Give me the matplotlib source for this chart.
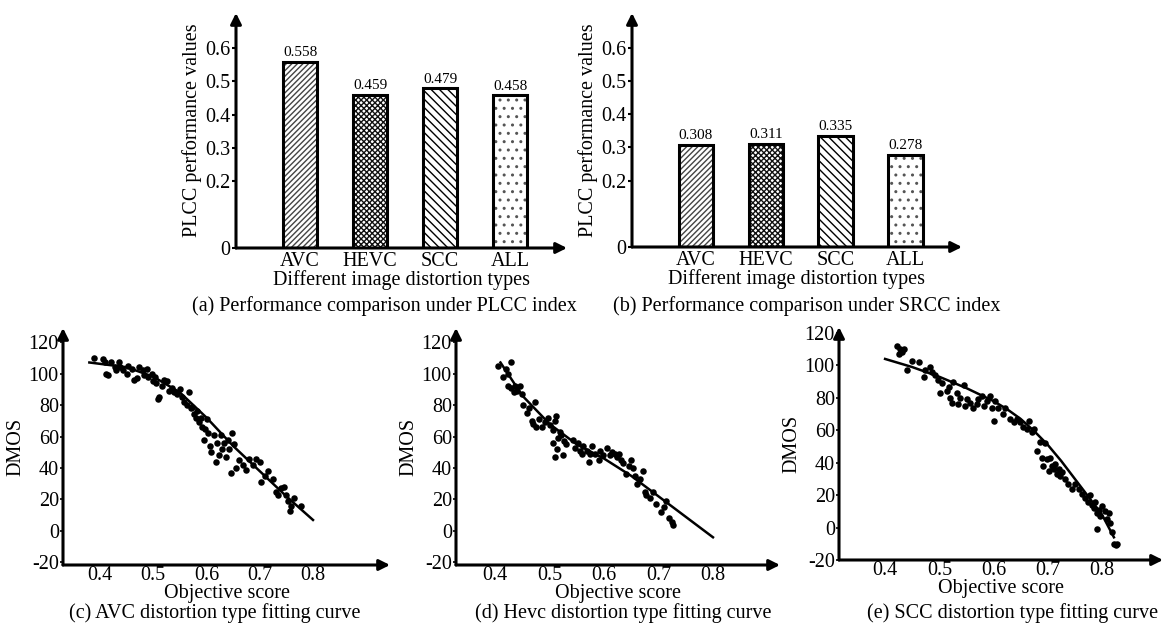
import matplotlib
matplotlib.use("Agg")
import matplotlib.pyplot as plt
import numpy as np

plt.rcParams['font.family'] = ['Liberation Serif', 'DejaVu Serif']
plt.rcParams['font.size'] = 14.5
plt.rcParams['hatch.linewidth'] = 1.0
plt.rcParams['axes.unicode_minus'] = False

# ---- bar chart data ----
categories = ['AVC', 'HEVC', 'SCC', 'ALL']
plcc_values = [0.558, 0.459, 0.479, 0.458]
srcc_values = [0.308, 0.311, 0.335, 0.278]
bar_ticks = [0, 0.2, 0.3, 0.4, 0.5, 0.6]
bar_ticklabels = ['0', '0.2', '0.3', '0.4', '0.5', '0.6']

# ---- scatter data (objective score, DMOS) ----
avc_x = [0.389, 0.406, 0.41, 0.411, 0.415, 0.42, 0.428, 0.43, 0.435, 0.438, 0.444, 0.45, 0.453,
         0.46, 0.463, 0.47, 0.473, 0.48, 0.482, 0.488, 0.49, 0.497, 0.5, 0.503, 0.506, 0.508,
         0.51, 0.516, 0.52, 0.526, 0.529, 0.535, 0.539, 0.545, 0.551, 0.554, 0.558, 0.564,
         0.567, 0.57, 0.573, 0.576, 0.58, 0.583, 0.586, 0.589, 0.592, 0.595, 0.598, 0.60,
         0.603, 0.606, 0.609, 0.614, 0.617, 0.62, 0.623, 0.627, 0.63, 0.633, 0.636, 0.64,
         0.643, 0.646, 0.647, 0.652, 0.655, 0.661, 0.668, 0.674, 0.68, 0.687, 0.693, 0.70,
         0.702, 0.709, 0.715, 0.724, 0.731, 0.734, 0.74, 0.746, 0.75, 0.753, 0.756, 0.759,
         0.765, 0.778]
avc_y = [110, 109, 107, 100, 99, 107, 104, 102, 107, 104, 102, 100, 105,
         103, 96, 97, 104, 102, 99, 103, 98, 100, 95, 98, 94, 84,
         85, 92, 96, 95, 89, 91, 88, 87, 90, 85, 82, 80,
         88, 78, 79, 74, 72, 76, 69, 72, 66, 58, 65, 71,
         62, 54, 50, 61, 44, 56, 48, 61, 52, 56, 47, 58,
         52, 37, 62, 55, 40, 45, 42, 39, 46, 42, 46, 44,
         31, 35, 38, 33, 25, 23, 27, 28, 23, 19, 13, 16,
         21, 16]
avc_fit_x = [0.38, 0.45, 0.50, 0.55, 0.60, 0.65, 0.70, 0.75, 0.80]
avc_fit_y = [107, 104, 98, 88, 72, 54, 38, 22, 7]

hevc_x = [0.406, 0.415, 0.42, 0.423, 0.424, 0.429, 0.43, 0.434, 0.437, 0.44, 0.446, 0.449,
          0.452, 0.458, 0.463, 0.467, 0.47, 0.473, 0.476, 0.481, 0.486, 0.492, 0.498, 0.501,
          0.507, 0.51, 0.512, 0.507, 0.51, 0.513, 0.516, 0.519, 0.522, 0.524, 0.526, 0.531,
          0.544, 0.547, 0.553, 0.556, 0.559, 0.562, 0.568, 0.572, 0.575, 0.578, 0.584, 0.59,
          0.593, 0.599, 0.605, 0.611, 0.614, 0.62, 0.623, 0.628, 0.632, 0.635, 0.641, 0.646,
          0.65, 0.653, 0.656, 0.66, 0.666, 0.672, 0.675, 0.678, 0.684, 0.69, 0.696, 0.705,
          0.711, 0.714, 0.72, 0.724, 0.727]
hevc_y = [105, 98, 103, 100, 92, 107, 91, 88, 92, 89, 92, 87,
          80, 75, 78, 70, 68, 82, 66, 71, 66, 69, 72, 67,
          64, 70, 73, 56, 47, 52, 59, 63, 61, 48, 57, 55,
          58, 53, 56, 51, 49, 54, 51, 44, 49, 54, 49, 45,
          51, 48, 53, 48, 50, 49, 47, 49, 45, 43, 36, 41,
          45, 40, 35, 30, 33, 38, 25, 23, 21, 25, 17, 12,
          15, 19, 8, 6, 4]
hevc_fit_x = [0.41, 0.45, 0.50, 0.55, 0.60, 0.65, 0.70, 0.75, 0.80]
hevc_fit_y = [107, 86, 68, 55, 46, 35, 22, 9, -4]

scc_x = [0.422, 0.428, 0.431, 0.425, 0.434, 0.44, 0.449, 0.462, 0.471, 0.474, 0.483, 0.486,
         0.492, 0.498, 0.502, 0.505, 0.514, 0.517, 0.52, 0.523, 0.526, 0.532, 0.535, 0.538,
         0.545, 0.548, 0.551, 0.557, 0.563, 0.569, 0.572, 0.578, 0.582, 0.588, 0.594, 0.597,
         0.603, 0.609, 0.60, 0.618, 0.622, 0.63, 0.637, 0.643, 0.649, 0.655, 0.662, 0.665,
         0.671, 0.674, 0.68, 0.686, 0.689, 0.692, 0.695, 0.698, 0.702, 0.705, 0.708, 0.711,
         0.714, 0.717, 0.72, 0.723, 0.726, 0.732, 0.738, 0.745, 0.751, 0.757, 0.763, 0.769,
         0.775, 0.778, 0.782, 0.785, 0.788, 0.791, 0.794, 0.797, 0.80, 0.806, 0.791, 0.809,
         0.812, 0.815, 0.818, 0.822, 0.825, 0.828]
scc_y = [112, 110, 108, 107, 110, 97, 103, 102, 93, 97, 99, 96,
         94, 91, 83, 89, 84, 87, 80, 77, 90, 83, 76, 80,
         88, 75, 79, 77, 74, 76, 79, 81, 75, 78, 81, 74,
         78, 74, 66, 70, 74, 67, 65, 67, 65, 62, 61, 66,
         59, 61, 47, 53, 43, 38, 52, 42, 35, 43, 38, 36,
         39, 33, 36, 32, 34, 30, 27, 24, 27, 24, 21, 18,
         16, 20, 14, 12, 16, 9, 11, 7, 13, 10, -1, 5,
         9, 3, -3, -10, -11, -10]
scc_fit_x = [0.40, 0.45, 0.50, 0.55, 0.60, 0.625, 0.65, 0.675, 0.70, 0.725, 0.75, 0.775,
             0.80, 0.822]
scc_fit_y = [104, 99, 93, 86, 78, 73, 67, 59.5, 51, 41, 30, 19, 8, -6]

captions = ['(a) Performance comparison under PLCC index',
            '(b) Performance comparison under SRCC index',
            '(c) AVC distortion type fitting curve',
            '(d) Hevc distortion type fitting curve',
            '(e) SCC distortion type fitting curve']

W, H = 1165, 623
fig = plt.figure(figsize=(W / 100, H / 100), dpi=100)


def px_axes(left, bottom, right, top):
    return fig.add_axes([left / W, 1 - bottom / H, (right - left) / W, (bottom - top) / H])


def arrow_axes(ax):
    for s in ax.spines.values():
        s.set_visible(False)
    kw = dict(arrowstyle='-|>', lw=2.2, color='k', mutation_scale=16, shrinkA=0, shrinkB=0)
    ax.annotate('', xy=(1, 0), xytext=(0, 0), xycoords='axes fraction', arrowprops=kw)
    ax.annotate('', xy=(0, 1), xytext=(0, 0), xycoords='axes fraction', arrowprops=kw)


hatches = ['//////', 'xxxxxx', '\\\\\\\\', '..']
hatch_colors = ['#444444', '#111111', '#000000', '#555555']


def bar_panel(ax, values):
    xs = np.arange(len(categories))
    for i, v in enumerate(values):
        ax.bar(xs[i], v, width=0.49, color='white', hatch=hatches[i],
               edgecolor=hatch_colors[i], linewidth=0)
        ax.bar(xs[i], v, width=0.49, fill=False, edgecolor='k', linewidth=2.2)
        ax.text(xs[i], v + 0.008, f'{v:.3f}', ha='center', va='bottom', fontsize=11)
    ax.set_xlim(-0.914, 3.81)
    ax.set_ylim(0, 0.705)
    ax.set_xticks(xs)
    ax.set_xticklabels(categories)
    ax.tick_params(axis='x', length=0, pad=3)
    ax.set_yticks(bar_ticks)
    ax.set_yticklabels(bar_ticklabels)
    ax.tick_params(axis='y', length=3, width=1.5, pad=1)
    ax.set_xlabel('Different image distortion types', labelpad=-1)
    ax.set_ylabel('PLCC performance values', labelpad=2)
    arrow_axes(ax)


ax_a = px_axes(236, 248, 567, 13)
bar_panel(ax_a, plcc_values)
ax_b = px_axes(632, 247, 962, 13)
bar_panel(ax_b, srcc_values)


def scatter_panel(ax, x, y, fx, fy, xlim, ylim):
    ax.plot(fx, fy, color='k', lw=1.8, zorder=2)
    ax.scatter(x, y, s=22, color='k', zorder=3, linewidths=0)
    ax.set_xlim(*xlim)
    ax.set_ylim(*ylim)
    ax.set_xticks([0.4, 0.5, 0.6, 0.7, 0.8])
    ax.set_xticklabels(['0.4', '0.5', '0.6', '0.7', '0.8'])
    ax.set_yticks([-20, 0, 20, 40, 60, 80, 100, 120])
    ax.tick_params(axis='x', length=0, pad=1)
    ax.tick_params(axis='y', length=2, width=1.2, pad=1)
    ax.set_xlabel('Objective score', labelpad=-1)
    ax.set_ylabel('DMOS', labelpad=2)
    arrow_axes(ax)


ax_c = px_axes(63, 565, 390, 328)
scatter_panel(ax_c, avc_x, avc_y, avc_fit_x, avc_fit_y, (0.3305, 0.9446), (-21.6, 128.9))
ax_d = px_axes(456, 565, 780, 328)
scatter_panel(ax_d, hevc_x, hevc_y, hevc_fit_x, hevc_fit_y, (0.3284, 0.923), (-21.6, 128.9))
ax_e = px_axes(839, 560, 1163, 327)
scatter_panel(ax_e, scc_x, scc_y, scc_fit_x, scc_fit_y, (0.315, 0.9125), (-19.7, 123.7))

cap_pos = [(384, 306), (807, 306), (215, 613), (623, 613), (1013, 613)]
for (cx, cy), txt in zip(cap_pos, captions):
    fig.text(cx / W, 1 - cy / H, txt, ha='center', va='center', fontsize=14.5)

fig.savefig('out.png', dpi=100, facecolor='white')
